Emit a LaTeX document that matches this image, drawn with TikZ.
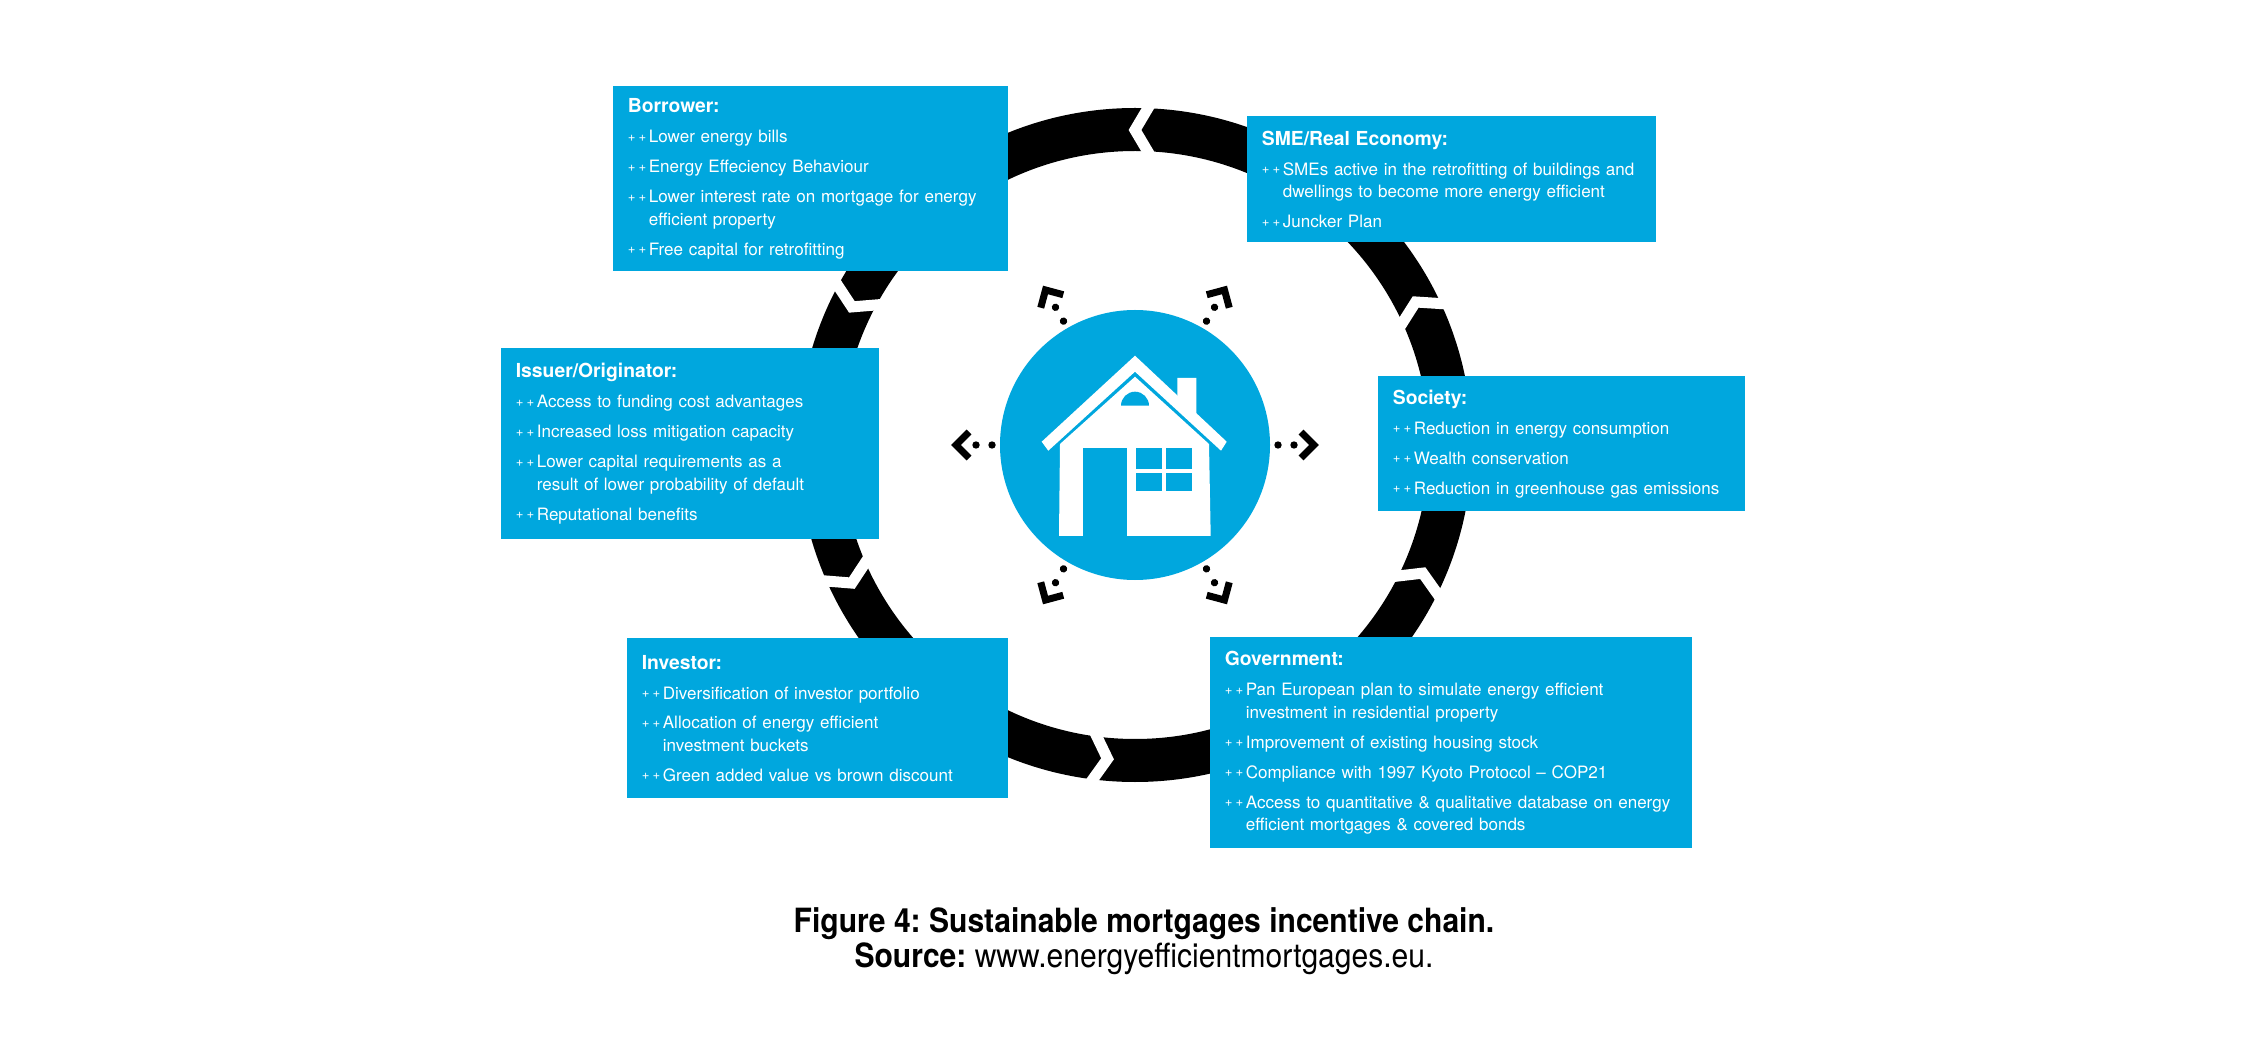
\documentclass[tikz,border=0pt]{standalone}
\usepackage{fontspec}
\setmainfont{TeX Gyre Heros}
\newfontfamily\capfont[FakeStretch=0.9]{TeX Gyre Heros}
\usepackage{xcolor}
\usepackage{tikz}
\usetikzlibrary{positioning}
\definecolor{boxblue}{RGB}{0,167,222}
\frenchspacing
\newcommand{\pp}{\makebox[4.2mm][l]{\raisebox{0.3mm}{\fontsize{7.5}{8}\selectfont+\hspace{0.6mm}+}}}
\newcommand{\ppgap}{\hspace*{4.2mm}}
\newcommand{\head}[1]{{\fontsize{11}{12.8}\selectfont\bfseries #1}}

\begin{document}
\begin{tikzpicture}[x=0.2mm, y=0.2mm,
  panel/.style={fill=boxblue, text=white, anchor=north west, inner xsep=2.9mm, inner ysep=0pt, align=left, font=\fontsize{9.7}{12.8}\selectfont},
  caption/.style={anchor=base, font=\capfont\fontsize{19}{20}\selectfont}]
\useasboundingbox (0,0) rectangle (2245,1060);

% ring with chevron cuts
\draw[line width=8.6mm] (1135,615) circle[radius=315.5];
\foreach \a in {90,154,206,265,336,27}{
  \begin{scope}[shift={(1135,615)}, rotate=\a]
    \draw[white, line width=2.2mm] (342,-16) -- (315,0) -- (288,-16);
  \end{scope}
}

% house
\node[circle, fill=boxblue, inner sep=0pt, minimum size=54mm] (hub) at (1135,615) {};
\fill[white] (1177.3,682) -- (1196.3,682) -- (1196.3,640) -- (1177.3,658) -- cycle;
\fill[white] (1041.7,618.3) -- (1135,704.3) -- (1226.7,618.3) -- (1221,609.3) -- (1135,688.3) -- (1048.3,609.3) -- cycle;
\fill[white] (1059,524) -- (1060,616) -- (1135,683.3) -- (1209,616) -- (1210.7,524) -- cycle;
\fill[boxblue] (1083.3,612.3) rectangle (1126.7,524);
\fill[boxblue] (1136,612.3) rectangle (1162.3,590.7);
\fill[boxblue] (1165.7,612.3) rectangle (1191.7,590.7);
\fill[boxblue] (1136,587.3) rectangle (1162.3,569);
\fill[boxblue] (1165.7,587.3) rectangle (1191.7,569);
\fill[boxblue] (1121,654.3) arc[start angle=180, end angle=0, radius=14] -- cycle;

% bursts round the house
\foreach \a in {0,60,...,300}{
  \begin{scope}[shift={(1135,615)}, rotate=\a]
    \fill (143,0) circle[radius=3.7];
    \fill (159,0) circle[radius=3.7];
    \draw[line width=1.4mm] (166,13) -- (179,0) -- (166,-13);
  \end{scope}
}

\node[panel, text width=73.2mm, minimum height=37mm] (borrower) at (613,974) {%
\head{Borrower:}\\[1.5mm]
\pp Lower energy bills\\[1.5mm]
\pp Energy Effeciency Behaviour\\[1.5mm]
\pp Lower interest rate on mortgage for energy\\\ppgap efficient property\\[1.5mm]
\pp Free capital for retrofitting};

\node[panel, text width=76mm, minimum height=25.2mm] (sme) at (1247,944) {%
\head{SME/Real Economy:}\\[1.5mm]
\pp SMEs active in the retrofitting of buildings and\\\ppgap dwellings to become more energy efficient\\[1.5mm]
\pp Juncker Plan};

\node[panel, text width=69.8mm, minimum height=38.2mm] (issuer) at (501,712) {%
\head{Issuer/Originator:}\\[1.5mm]
\pp Access to funding cost advantages\\[1.5mm]
\pp Increased loss mitigation capacity\\[1.5mm]
\pp Lower capital requirements as a\\\ppgap result of lower probability of default\\[1.5mm]
\pp Reputational benefits};

\node[panel, text width=67.6mm, minimum height=27mm] (society) at (1378,684) {%
\head{Society:}\\[1.5mm]
\pp Reduction in energy consumption\\[1.5mm]
\pp Wealth conservation\\[1.5mm]
\pp Reduction in greenhouse gas emissions};

\node[panel, text width=70.4mm, minimum height=32mm] (investor) at (627,422) {%
\head{Investor:}\\[1.5mm]
\pp Diversification of investor portfolio\\[1.5mm]
\pp Allocation of energy efficient\\\ppgap investment buckets\\[1.5mm]
\pp Green added value vs brown discount};

\node[panel, text width=90.6mm, minimum height=42.2mm] (government) at (1210,423) {%
\head{Government:}\\[1.5mm]
\pp Pan European plan to simulate energy efficient\\\ppgap investment in residential property\\[1.5mm]
\pp Improvement of existing housing stock\\[1.5mm]
\pp Compliance with 1997 Kyoto Protocol -- COP21\\[1.5mm]
\pp Access to quantitative \& qualitative database on energy\\\ppgap efficient mortgages \& covered bonds};

\node[caption] (figcap) at (1144,128) {\bfseries Figure 4: Sustainable mortgages incentive chain.};
\node[caption] (srccap) at (1144,93) {\textbf{Source:} www.energyefficientmortgages.eu.};
\end{tikzpicture}
\end{document}
